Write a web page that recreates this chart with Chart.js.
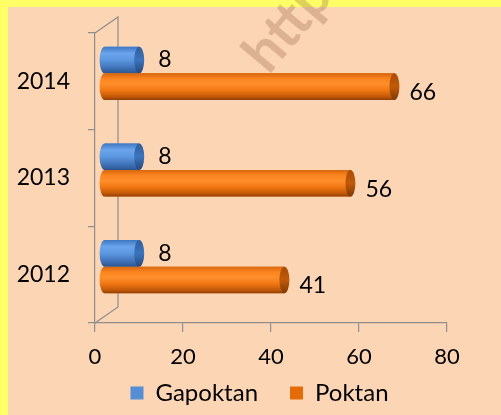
<!DOCTYPE html>
<html>
<head>
<meta charset="utf-8">
<script src="https://cdn.jsdelivr.net/npm/chart.js@4.4.0/dist/chart.umd.min.js"></script>
<style>
  html, body { margin: 0; padding: 0; background: #FFFF66; }
  #wrap { width: 501px; height: 415px; position: relative; }
</style>
</head>
<body>
<div id="wrap"><canvas id="bar-chart" width="501" height="415"></canvas></div>
<script>
// data (top to bottom as in the picture)
var years = ['2014', '2013', '2012'];
var gapoktan = [8, 8, 8];
var poktan = [66, 56, 41];
var xTicks = [0, 20, 40, 60, 80];

var FONT = 'Lato, "Open Sans", sans-serif';
var AXIS_GRAY = '#8E8E8E';
var DX = 9, DY = -8;      // bars sit halfway into the "3d" depth
var DEPTH_X = 23, DEPTH_Y = -16;

// yellow frame + peach fill, and the faded watermark
var backdrop = {
  id: 'backdrop',
  beforeDraw: function(chart) {
    var ctx = chart.ctx;
    ctx.save();
    ctx.fillStyle = '#FFFF66';
    ctx.fillRect(0, 0, chart.width, chart.height);
    ctx.fillStyle = '#FCD5B5';
    ctx.fillRect(8, 7, chart.width - 8, chart.height - 7);
    ctx.restore();
  },
  afterLayout: function(chart) {
    // legend sits a bit right of the plot centre; grow its box upward
    var lg = chart.legend;
    lg.left += 32;
    lg.right += 32;
    lg.top -= 22;
    lg.height += 22;
  },
  afterDraw: function(chart) {
    var ctx = chart.ctx;
    ctx.save();
    ctx.translate(255, 64);
    ctx.rotate(-50 * Math.PI / 180);
    ctx.font = 'bold 56px ' + FONT;
    ctx.fillStyle = 'rgba(150, 100, 70, 0.3)';
    ctx.fillText('http://', 0, 0);
    ctx.restore();
  }
};

function cylGradient(ctx, top, h, stops) {
  var g = ctx.createLinearGradient(0, top, 0, top + h);
  stops.forEach(function(s) { g.addColorStop(s[0], s[1]); });
  return g;
}

var bodyStops = [
  [[0, '#3F78C2'], [0.25, '#6AA4EC'], [0.5, '#5C97E0'], [0.8, '#3F72B8'], [1, '#2C5690']],
  [[0, '#D8660C'], [0.2, '#FA8420'], [0.4, '#FF8F2C'], [0.65, '#F07612'], [0.88, '#C25808'], [1, '#8E4006']]
];
var capStops = [
  [[0, '#2F5F9E'], [0.5, '#3D74BC'], [1, '#24497E']],
  [[0, '#A84C06'], [0.5, '#C05A0A'], [1, '#7E3804']]
];

var cylinders = {
  id: 'cylinders',
  beforeDatasetsDraw: function(chart) {
    var ctx = chart.ctx;
    var a = chart.chartArea;
    // back wall edges
    ctx.save();
    ctx.strokeStyle = AXIS_GRAY;
    ctx.lineWidth = 1.2;
    ctx.beginPath();
    ctx.moveTo(a.left, a.top);
    ctx.lineTo(a.left + DEPTH_X, a.top + DEPTH_Y);
    ctx.lineTo(a.left + DEPTH_X, a.bottom + DEPTH_Y);
    ctx.lineTo(a.left, a.bottom);
    ctx.stroke();
    ctx.restore();
    ctx.save();
    ctx.translate(DX, DY);
  },
  afterDatasetsDraw: function(chart) {
    var ctx = chart.ctx;
    chart.data.datasets.forEach(function(ds, i) {
      chart.getDatasetMeta(i).data.forEach(function(bar) {
        var p = bar.getProps(['x', 'y', 'base', 'height'], true);
        var h = p.height, top = p.y - h / 2, rx = 5;
        ctx.beginPath();
        ctx.ellipse(p.base, p.y, rx, h / 2, 0, Math.PI / 2, Math.PI * 3 / 2);
        ctx.lineTo(p.x, top);
        ctx.lineTo(p.x, top + h);
        ctx.closePath();
        ctx.fillStyle = cylGradient(ctx, top, h, bodyStops[i]);
        ctx.fill();
        ctx.beginPath();
        ctx.ellipse(p.x, p.y, rx, h / 2, 0, 0, Math.PI * 2);
        ctx.fillStyle = cylGradient(ctx, top, h, capStops[i]);
        ctx.fill();
      });
    });
    ctx.restore();
    // value labels
    ctx.save();
    ctx.font = '23px ' + FONT;
    ctx.fillStyle = '#000';
    ctx.textAlign = 'left';
    ctx.textBaseline = 'middle';
    chart.data.datasets.forEach(function(ds, i) {
      chart.getDatasetMeta(i).data.forEach(function(bar, j) {
        var p = bar.getProps(['x', 'y'], true);
        ctx.fillText(String(ds.data[j]), p.x + DX + (i === 0 ? 19 : 15), p.y + DY + (i === 1 ? 6 : 0));
      });
    });
    ctx.restore();
  }
};

var ctx = document.getElementById('bar-chart');
var chart = new Chart(ctx, {
  type: 'bar',
  data: {
    labels: years,
    datasets: [{
      label: 'Gapoktan',
      data: gapoktan,
      backgroundColor: '#558ED5',
      borderWidth: 0
    }, {
      label: 'Poktan',
      data: poktan,
      backgroundColor: '#E36C09',
      borderWidth: 0
    }]
  },
  options: {
    indexAxis: 'y',
    responsive: false,
    animation: false,
    devicePixelRatio: 1,
    categoryPercentage: 0.55,
    barPercentage: 1,
    layout: { padding: { left: 8, top: 33, right: 54, bottom: 0 } },
    scales: {
      x: {
        min: 0,
        max: 80,
        afterBuildTicks: function(scale) {
          scale.ticks = xTicks.map(function(v) { return { value: v }; });
        },
        afterFit: function(scale) { scale.height = 48; },
        border: { display: true, color: AXIS_GRAY, width: 1.2 },
        grid: { drawOnChartArea: false, drawTicks: true, tickLength: 9, color: AXIS_GRAY, lineWidth: 1.2 },
        ticks: { color: '#000', font: { family: FONT, size: 22 }, padding: 12, maxRotation: 0 }
      },
      y: {
        afterFit: function(scale) { scale.width = 87; },
        border: { display: true, color: AXIS_GRAY, width: 1.2 },
        grid: { drawOnChartArea: false, drawTicks: true, tickLength: 7, offset: true, color: AXIS_GRAY, lineWidth: 1.2 },
        ticks: { color: '#000', font: { family: FONT, size: 23 }, padding: 18 }
      }
    },
    plugins: {
      legend: {
        position: 'bottom',
        maxHeight: 44,
        labels: {
          color: '#000',
          font: { family: FONT, size: 24 },
          boxWidth: 13,
          boxHeight: 13,
          padding: 32
        }
      },
      tooltip: { enabled: false }
    }
  },
  plugins: [backdrop, cylinders]
});
</script>
</body>
</html>
